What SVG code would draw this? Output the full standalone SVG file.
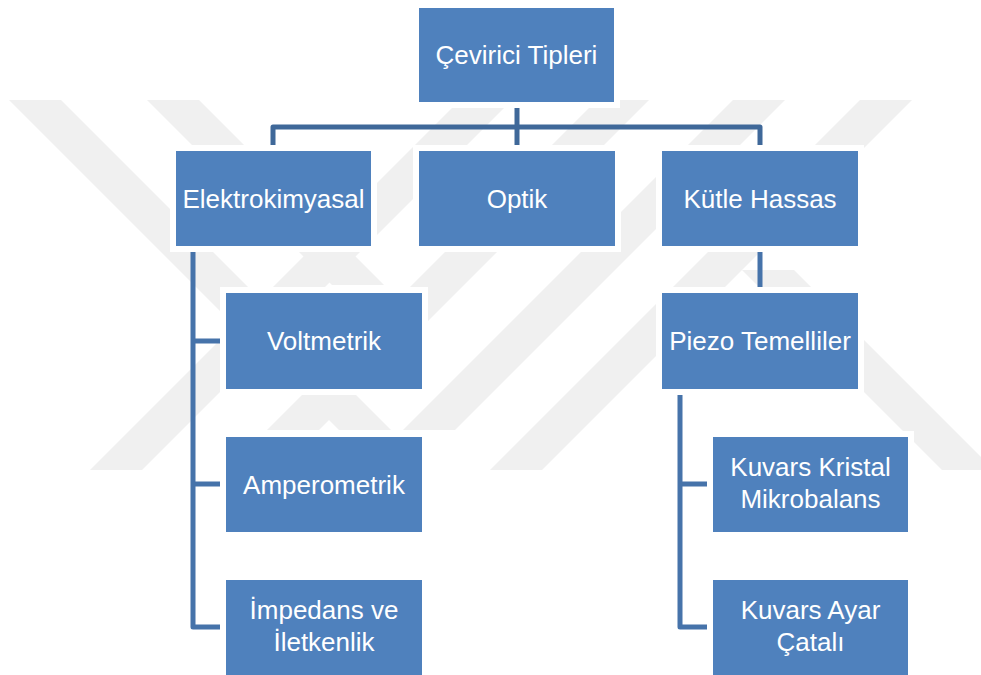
<svg xmlns="http://www.w3.org/2000/svg" width="981" height="675" viewBox="0 0 981 675">
<style>
.wm{fill:#f0f0f0}
.halo{fill:#ffffff}
.box{fill:#4f81bd}
.t{font-family:"Liberation Sans",Arial,sans-serif;font-size:26px;fill:#ffffff;text-anchor:middle}
.ln{fill:none;stroke:#4673aa;stroke-width:5;stroke-linejoin:round}
.bar{fill:none;stroke:#3f6899;stroke-width:5;stroke-linejoin:round}
</style>
<rect width="981" height="675" fill="#ffffff"/>
<g id="watermark">
<polygon class="wm" points="9,100 61,100 391,430 339,430"/>
<polygon class="wm" points="147,100 199,100 384,285 332,285"/>
<polygon class="wm" points="742,270 794,270 994,470 942,470"/>
<polygon class="wm" points="90,470 142,470 512,100 460,100"/>
<polygon class="wm" points="267,430 319,430 649,100 597,100"/>
<polygon class="wm" points="403,430 455,430 785,100 733,100"/>
<polygon class="wm" points="490,470 542,470 912,100 860,100"/>
</g>
<g id="connectors">
<path class="bar" d="M273,150 V127 H760 V150"/>
<path class="bar" d="M517,100 V150"/>
<path class="ln" d="M760,246 V293"/>
<path class="ln" d="M193,246 V627 H226"/>
<path class="ln" d="M193,341 H226"/>
<path class="ln" d="M193,484 H226"/>
<path class="ln" d="M680,389 V627 H713"/>
<path class="ln" d="M680,484 H713"/>
</g>
<g id="n-root">
<rect class="halo" x="413" y="2" width="207" height="106"/>
<rect class="box" x="419" y="8" width="195" height="94"/>
<text class="t" x="516.5" y="64">Çevirici Tipleri</text>
</g>
<g id="n-elektro">
<rect class="halo" x="170" y="145" width="207" height="107"/>
<rect class="box" x="176" y="151" width="195" height="95"/>
<text class="t" x="273.5" y="207.5">Elektrokimyasal</text>
</g>
<g id="n-optik">
<rect class="halo" x="413" y="145" width="208" height="107"/>
<rect class="box" x="419" y="151" width="196" height="95"/>
<text class="t" x="517" y="207.5">Optik</text>
</g>
<g id="n-kutle">
<rect class="halo" x="656" y="145" width="208" height="107"/>
<rect class="box" x="662" y="151" width="196" height="95"/>
<text class="t" x="760" y="207.5">Kütle Hassas</text>
</g>
<g id="n-piezo">
<rect class="halo" x="656" y="287" width="208" height="108"/>
<rect class="box" x="662" y="293" width="196" height="96"/>
<text class="t" x="760" y="350">Piezo Temelliler</text>
</g>
<g id="n-volt">
<rect class="halo" x="220" y="287" width="208" height="108"/>
<rect class="box" x="226" y="293" width="196" height="96"/>
<text class="t" x="324" y="350">Voltmetrik</text>
</g>
<g id="n-ampero">
<rect class="halo" x="220" y="431" width="208" height="107"/>
<rect class="box" x="226" y="437" width="196" height="95"/>
<text class="t" x="324" y="493.5">Amperometrik</text>
</g>
<g id="n-impedans">
<rect class="halo" x="220" y="574" width="208" height="107"/>
<rect class="box" x="226" y="580" width="196" height="95"/>
<text class="t" x="324" y="619">İmpedans ve</text>
<text class="t" x="324" y="651">İletkenlik</text>
</g>
<g id="n-kuvars-kristal">
<rect class="halo" x="707" y="431" width="207" height="107"/>
<rect class="box" x="713" y="437" width="195" height="95"/>
<text class="t" x="810.5" y="476">Kuvars Kristal</text>
<text class="t" x="810.5" y="508">Mikrobalans</text>
</g>
<g id="n-kuvars-ayar">
<rect class="halo" x="707" y="574" width="207" height="107"/>
<rect class="box" x="713" y="580" width="195" height="95"/>
<text class="t" x="810.5" y="619">Kuvars Ayar</text>
<text class="t" x="810.5" y="651">Çatalı</text>
</g>
</svg>
